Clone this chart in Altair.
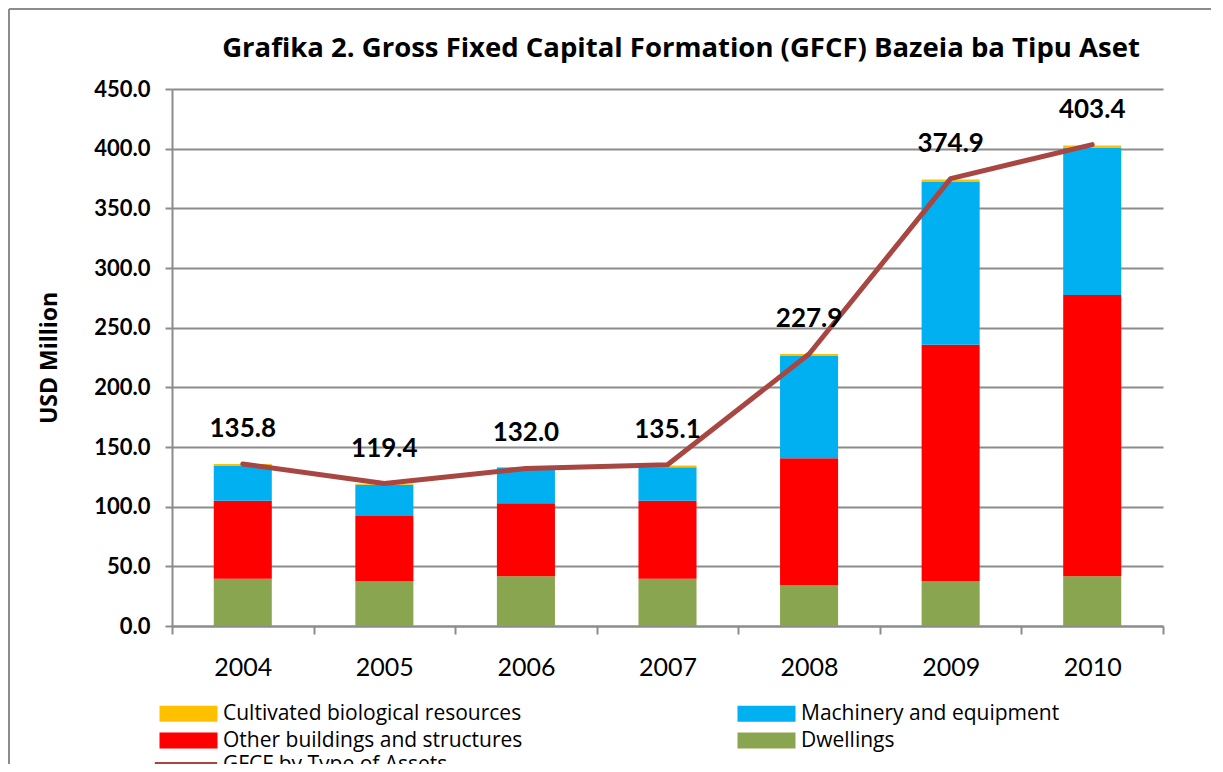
import altair as alt
import pandas as pd

years = ["2004", "2005", "2006", "2007", "2008", "2009", "2010"]
dwellings = [39.5, 37.6, 41.7, 39.5, 34.2, 37.6, 41.7]
other_buildings = [65.4, 54.5, 61.2, 65.4, 106.3, 198.0, 235.7]
machinery = [29.7, 26.2, 29.6, 28.1, 85.7, 136.9, 123.5]
cultivated = [1.2, 0.8, 0.8, 1.5, 1.7, 1.7, 1.7]
totals = [135.8, 119.4, 132.0, 135.1, 227.9, 374.9, 403.4]

title_text = "Grafika 2. Gross Fixed Capital Formation (GFCF) Bazeia ba Tipu Aset"

# legend order (column-major grid): col 1 = first two, col 2 = last two
series_names = [
    "Cultivated biological resources",
    "Other buildings and structures",
    "Machinery and equipment",
    "Dwellings",
]
series_colors = ["#FFC000", "#FF0000", "#00B0F0", "#8AA54F"]
stack_rank = {"Dwellings": 0, "Other buildings and structures": 1,
              "Machinery and equipment": 2, "Cultivated biological resources": 3}
series_values = {
    "Dwellings": dwellings,
    "Other buildings and structures": other_buildings,
    "Machinery and equipment": machinery,
    "Cultivated biological resources": cultivated,
}
line_name = "GFCF by Type of Assets"

rows = []
for name, vals in series_values.items():
    for y, v in zip(years, vals):
        rows.append({"year": y, "series": name, "value": v, "rank": stack_rank[name]})
df = pd.DataFrame(rows)
tot = pd.DataFrame({"year": years, "total": totals, "name": [line_name] * len(years)})
title_df = pd.DataFrame({"t": [title_text]})

FONT = "Lato"
TFONT = "Open Sans"
GRAY = "#8C8C8C"

xscale = alt.Scale(paddingInner=0, paddingOuter=0)
xenc = alt.X(
    "year:N",
    scale=xscale,
    axis=alt.Axis(
        title=None, labelFontSize=25, labelFont=FONT, labelColor="black",
        labelPadding=21, tickSize=8, tickBand="extent", tickColor=GRAY,
        tickWidth=2, domainColor=GRAY, domainWidth=2, labelAngle=0, grid=False,
    ),
)
yscale = alt.Scale(domain=[0, 450], nice=False)

bars = alt.Chart(df).mark_bar(width=alt.RelativeBandSize(0.41)).encode(
    x=xenc,
    y=alt.Y(
        "value:Q", stack="zero", scale=yscale,
        axis=alt.Axis(
            title="USD Million", values=list(range(0, 451, 50)), format=".1f",
            labelFont=FONT, labelFontSize=22, labelFontWeight="bold", labelColor="black",
            labelPadding=15, tickSize=7, tickColor=GRAY, tickWidth=2,
            domainColor=GRAY, domainWidth=2, gridColor=GRAY, gridWidth=1.8,
            titleFont=TFONT, titleFontSize=23, titleFontWeight="bold", titleColor="black",
            titlePadding=32,
        ),
    ),
    color=alt.Color(
        "series:N",
        scale=alt.Scale(domain=series_names, range=series_colors),
        legend=alt.Legend(
            title=None, orient="none", legendX=6, legendY=614, columns=2,
            columnPadding=214, rowPadding=5, labelFont=TFONT, labelFontSize=21,
            labelColor="black", labelOffset=24, labelLimit=400,
            symbolType="M-3.625,-1L3.625,-1L3.625,1L-3.625,1Z", symbolSize=256,
            symbolStrokeWidth=0, padding=0,
        ),
    ),
    order=alt.Order("rank:Q"),
)

line = alt.Chart(tot).mark_line(strokeWidth=5, strokeCap="round", strokeJoin="round").encode(
    x=alt.X("year:N", scale=xscale),
    y=alt.Y("total:Q", scale=yscale),
    stroke=alt.Stroke(
        "name:N",
        scale=alt.Scale(domain=[line_name], range=["#A84642"]),
        legend=alt.Legend(
            title=None, orient="none", legendX=3, legendY=665,
            labelFont=TFONT, labelFontSize=21, labelColor="black", labelOffset=26,
            labelLimit=400,
            symbolType="M-3.9,0L3.9,0", symbolSize=256, symbolStrokeWidth=6,
            padding=0,
        ),
    ),
)

labels = alt.Chart(tot).mark_text(
    dy=-35, fontSize=26, fontWeight="bold", font=FONT, color="black"
).encode(
    x=alt.X("year:N", scale=xscale),
    y=alt.Y("total:Q", scale=yscale),
    text=alt.Text("total:Q", format=".1f"),
)

title = alt.Chart(title_df).mark_text(
    fontSize=27.5, fontWeight="bold", font=TFONT, color="black",
    align="center", baseline="middle",
).encode(text="t:N", x=alt.value(509), y=alt.value(-40))

frame_top = alt.Chart(title_df).mark_rule(color=GRAY, strokeWidth=2).encode(
    x=alt.value(-163), x2=alt.value(1100), y=alt.value(-80)
)
frame_left = alt.Chart(title_df).mark_rule(color=GRAY, strokeWidth=2).encode(
    x=alt.value(-163), y=alt.value(-80), y2=alt.value(800)
)

chart = alt.layer(frame_top, frame_left, title, bars, line, labels).properties(
    width=991,
    height=537,
    autosize=alt.AutoSizeParams(type="none"),
    padding={"left": 164, "top": 81, "right": 48, "bottom": 138},
).configure_view(stroke=None)

chart.save("out.html", embed_options={"renderer": "svg", "actions": False})
